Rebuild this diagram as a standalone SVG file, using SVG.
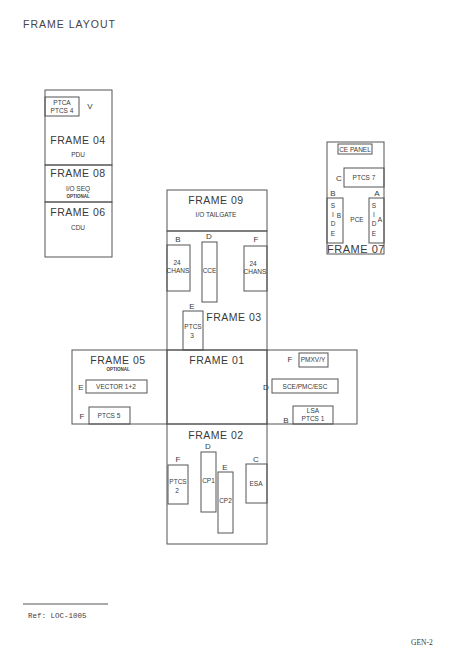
<svg xmlns="http://www.w3.org/2000/svg" width="474" height="660" viewBox="0 0 474 660">
<style>
rect{fill:none;stroke:#555;stroke-width:1}
line{stroke:#555;stroke-width:1}
text{font-family:"Liberation Sans",Arial,sans-serif;fill:#3a3a3a;text-anchor:middle}
.big{font-size:10.5px;letter-spacing:0.5px}
.sm{font-size:6.5px}
.xs{font-size:4.5px;font-weight:bold}
.lbl{font-size:8px}
</style>
<rect x="0" y="0" width="474" height="660" style="fill:#fff;stroke:none"/>
<text x="23" y="28" style="font-size:10.5px;letter-spacing:1px;text-anchor:start;fill:#444">FRAME LAYOUT</text>

<g id="frame04">
<rect x="45" y="90" width="67" height="75"/>
<rect x="45" y="97" width="34" height="19"/>
<text class="sm" x="62" y="105">PTCA</text>
<text class="sm" x="62" y="113">PTCS 4</text>
<text class="lbl" x="90" y="109">V</text>
<text class="big" x="78" y="144">FRAME 04</text>
<text class="sm" x="78" y="157">PDU</text>
</g>
<g id="frame08">
<rect x="45" y="165" width="67" height="37"/>
<text class="big" x="78" y="177">FRAME 08</text>
<text class="sm" x="78" y="191">I/O SEQ</text>
<text class="xs" x="78" y="198">OPTIONAL</text>
</g>
<g id="frame06">
<rect x="45" y="202" width="67" height="55"/>
<text class="big" x="78" y="216">FRAME 06</text>
<text class="sm" x="78" y="230">CDU</text>
</g>

<g id="frame07">
<rect x="327" y="142" width="57" height="112"/>
<rect x="338" y="144" width="34" height="10"/>
<text class="sm" x="355" y="151.5">CE PANEL</text>
<text class="lbl" x="339" y="181">C</text>
<rect x="344" y="168" width="40" height="19"/>
<text class="sm" x="364" y="180">PTCS 7</text>
<text class="lbl" x="333" y="196">B</text>
<text class="lbl" x="377" y="196">A</text>
<rect x="327" y="198" width="16" height="45"/>
<rect x="369" y="198" width="15" height="45"/>
<text class="sm" x="333" y="208">S</text>
<text class="sm" x="333" y="217">I</text>
<text class="sm" x="333" y="226">D</text>
<text class="sm" x="333" y="236">E</text>
<text class="sm" x="339" y="218">B</text>
<text class="sm" x="374" y="208">S</text>
<text class="sm" x="374" y="217">I</text>
<text class="sm" x="374" y="226">D</text>
<text class="sm" x="374" y="236">E</text>
<text class="sm" x="380" y="222">A</text>
<text class="sm" x="357" y="222">PCE</text>
<text x="356" y="253" style="font-size:11px;letter-spacing:0.5px">FRAME 07</text>
</g>

<g id="frame09">
<rect x="167" y="190" width="100" height="41"/>
<text class="big" x="216" y="204">FRAME 09</text>
<text class="sm" x="216" y="217">I/O TAILGATE</text>
</g>

<g id="frame03">
<rect x="167" y="231" width="100" height="119"/>
<text class="lbl" x="178" y="242">B</text>
<rect x="167" y="245" width="23" height="46"/>
<text class="sm" x="177" y="265">24</text>
<text class="sm" x="178" y="273">CHANS</text>
<text class="lbl" x="209" y="239">D</text>
<rect x="202" y="242" width="15" height="60"/>
<text class="sm" x="209.5" y="273">CCE</text>
<text class="lbl" x="256" y="242">F</text>
<rect x="244" y="246" width="23" height="45"/>
<text class="sm" x="253" y="266">24</text>
<text class="sm" x="255" y="274">CHANS</text>
<text class="lbl" x="192" y="309">E</text>
<rect x="183" y="311" width="20" height="39"/>
<text class="sm" x="193" y="329">PTCS</text>
<text class="sm" x="192" y="338">3</text>
<text class="big" x="234" y="321">FRAME 03</text>
</g>

<g id="frame05">
<rect x="72" y="350" width="95" height="74"/>
<text class="big" x="118" y="364">FRAME 05</text>
<text class="xs" x="118" y="371">OPTIONAL</text>
<text class="lbl" x="81" y="390">E</text>
<rect x="86" y="380" width="61" height="13"/>
<text class="sm" x="116" y="389">VECTOR 1+2</text>
<text class="lbl" x="82" y="419">F</text>
<rect x="89" y="407" width="41" height="17"/>
<text class="sm" x="109" y="418">PTCS 5</text>
</g>

<g id="frame01">
<rect x="167" y="350" width="100" height="74"/>
<text class="big" x="217" y="364">FRAME 01</text>
</g>

<g id="frame01r">
<rect x="267" y="350" width="90" height="74"/>
<text class="lbl" x="290" y="362">F</text>
<rect x="299" y="353" width="29" height="14"/>
<text class="sm" x="313" y="362">PMXV/Y</text>
<text class="lbl" x="266" y="390">D</text>
<rect x="272" y="379" width="66" height="14"/>
<text class="sm" x="305" y="388.5">SCE/PMC/ESC</text>
<text class="lbl" x="286" y="423">B</text>
<rect x="293" y="406" width="40" height="18"/>
<text class="sm" x="313" y="413">LSA</text>
<text class="sm" x="313" y="421">PTCS 1</text>
</g>

<g id="frame02">
<rect x="167" y="424" width="100" height="120"/>
<text class="big" x="216" y="439">FRAME 02</text>
<text class="lbl" x="178" y="462">F</text>
<rect x="168" y="465" width="20" height="39"/>
<text class="sm" x="178" y="484">PTCS</text>
<text class="sm" x="177" y="493">2</text>
<text class="lbl" x="208" y="449">D</text>
<rect x="201" y="452" width="15" height="60"/>
<text class="sm" x="208.5" y="483">CP1</text>
<text class="lbl" x="225" y="470">E</text>
<rect x="218" y="472" width="15" height="61"/>
<text class="sm" x="225.5" y="503">CP2</text>
<text class="lbl" x="256" y="462">C</text>
<rect x="246" y="464" width="21" height="39"/>
<text class="sm" x="256" y="486">ESA</text>
</g>

<g id="connectors"></g>

<g id="footer">
<line x1="23" y1="604" x2="108" y2="604"/>
<text x="28" y="618" style="font-family:'Liberation Mono',monospace;font-size:7.5px;text-anchor:start">Ref: LOC-1005</text>
<text x="411" y="645" style="font-family:'Liberation Serif',serif;font-size:7.5px;text-anchor:start">GEN-2</text>
</g>
</svg>
